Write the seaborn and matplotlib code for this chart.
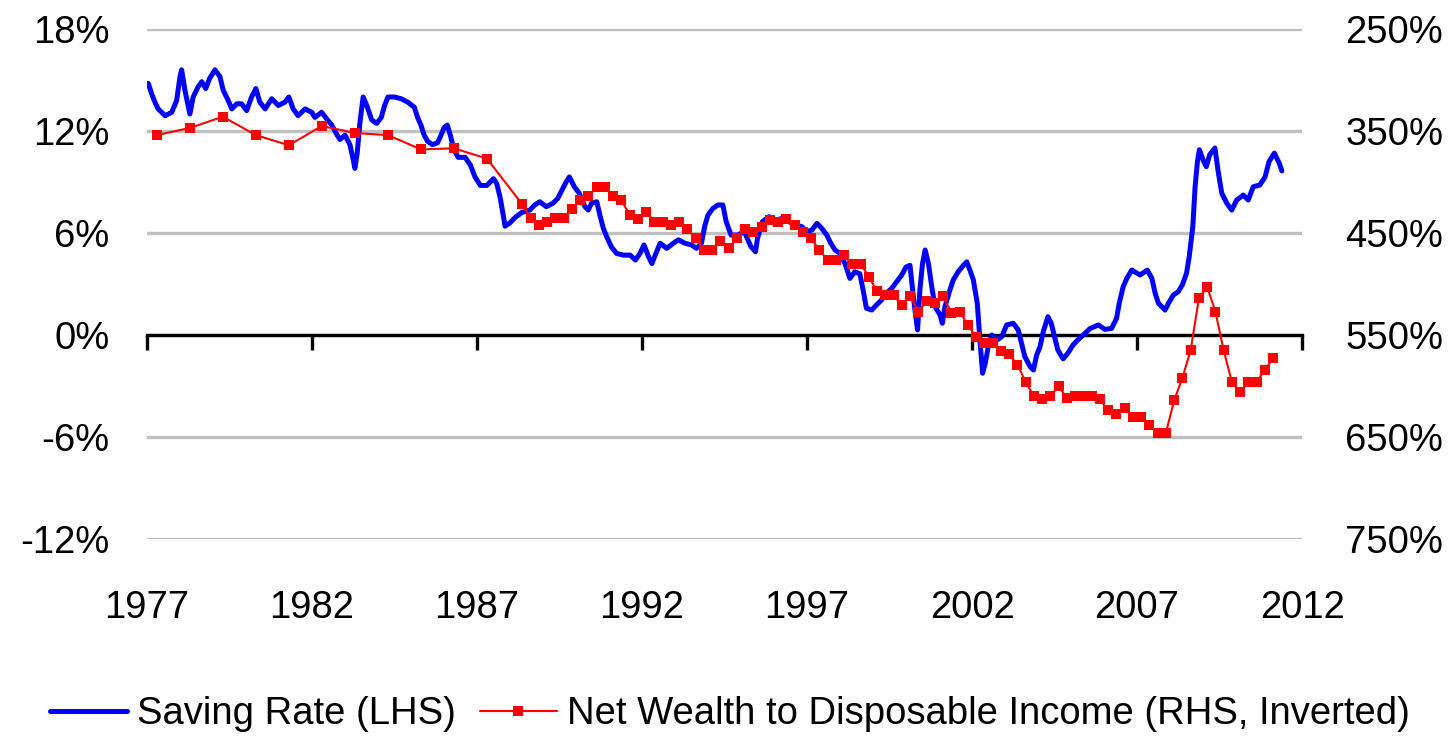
import matplotlib
matplotlib.use("Agg")
import matplotlib.pyplot as plt
import seaborn as sns

# Saving rate (LHS, %)
sr_year = [
    1977.04, 1977.14, 1977.24, 1977.34, 1977.55, 1977.75, 1977.9, 1978.0, 1978.05, 1978.15,
    1978.3, 1978.4, 1978.55, 1978.66, 1978.78, 1978.9, 1979.06, 1979.21, 1979.31, 1979.46,
    1979.57, 1979.72, 1979.87, 1980.02, 1980.17, 1980.3, 1980.42, 1980.58, 1980.78, 1980.98,
    1981.18, 1981.3, 1981.43, 1981.58, 1981.79, 1981.99, 1982.09, 1982.29, 1982.45, 1982.6,
    1982.75, 1982.85, 1983.0, 1983.15, 1983.25, 1983.3, 1983.37, 1983.45, 1983.55, 1983.66,
    1983.81, 1983.96, 1984.1, 1984.2, 1984.3, 1984.5, 1984.7, 1984.9, 1985.1, 1985.2,
    1985.3, 1985.4, 1985.5, 1985.65, 1985.8, 1985.9, 1986.0, 1986.1, 1986.2, 1986.3,
    1986.43, 1986.64, 1986.8, 1986.94, 1987.1, 1987.3, 1987.5, 1987.6, 1987.7, 1987.8,
    1987.85, 1988.0, 1988.15, 1988.35, 1988.6, 1988.75, 1988.9, 1989.1, 1989.3, 1989.45,
    1989.55, 1989.7, 1989.8, 1989.95, 1990.1, 1990.27, 1990.37, 1990.47, 1990.63, 1990.73,
    1990.83, 1990.95, 1991.08, 1991.23, 1991.43, 1991.64, 1991.8, 1991.94, 1992.06, 1992.2,
    1992.3, 1992.4, 1992.55, 1992.75, 1992.95, 1993.1, 1993.3, 1993.5, 1993.65, 1993.8,
    1993.9, 1994.0, 1994.15, 1994.3, 1994.45, 1994.55, 1994.7, 1994.9, 1995.1, 1995.3,
    1995.44, 1995.5, 1995.65, 1995.85, 1996.05, 1996.25, 1996.45, 1996.65, 1996.85, 1997.0,
    1997.15, 1997.3, 1997.45, 1997.6, 1997.72, 1997.85, 1998.0, 1998.15, 1998.3, 1998.45,
    1998.6, 1998.7, 1998.8, 1998.96, 1999.1, 1999.26, 1999.4, 1999.57, 1999.72, 1999.87,
    2000.0, 2000.12, 2000.2, 2000.27, 2000.35, 2000.42, 2000.5, 2000.58, 2000.68, 2000.78,
    2000.88, 2001.03, 2001.1, 2001.18, 2001.33, 2001.43, 2001.58, 2001.74, 2001.84, 2001.94,
    2002.04, 2002.16, 2002.24, 2002.32, 2002.4, 2002.5, 2002.6, 2002.75, 2002.9, 2003.05,
    2003.25, 2003.4, 2003.5, 2003.6, 2003.76, 2003.86, 2003.96, 2004.06, 2004.16, 2004.3,
    2004.4, 2004.5, 2004.6, 2004.76, 2004.9, 2005.06, 2005.2, 2005.37, 2005.58, 2005.83,
    2006.03, 2006.23, 2006.38, 2006.46, 2006.58, 2006.69, 2006.84, 2007.09, 2007.31, 2007.45,
    2007.55, 2007.65, 2007.85, 2007.95, 2008.1, 2008.25, 2008.37, 2008.5, 2008.58, 2008.69,
    2008.76, 2008.83, 2008.89, 2009.0, 2009.1, 2009.2, 2009.36, 2009.46, 2009.57, 2009.72,
    2009.87, 2010.02, 2010.22, 2010.37, 2010.52, 2010.72, 2010.88, 2011.0, 2011.16, 2011.31,
    2011.39,
]
sr_value = [
    14.8, 14.2, 13.7, 13.3, 12.9, 13.1, 13.8, 15.2, 15.6, 14.4,
    13.0, 14.0, 14.6, 14.9, 14.5, 15.1, 15.6, 15.2, 14.4, 13.8,
    13.3, 13.6, 13.6, 13.2, 14.0, 14.5, 13.7, 13.3, 13.9, 13.5,
    13.7, 14.0, 13.3, 12.9, 13.3, 13.1, 12.8, 13.1, 12.7, 12.35,
    11.8, 11.5, 11.76, 11.2, 10.3, 9.8, 10.7, 12.45, 14.0, 13.5,
    12.65, 12.45, 12.8, 13.5, 14.0, 14.0, 13.9, 13.7, 13.4, 12.8,
    12.35, 11.76, 11.4, 11.2, 11.3, 11.7, 12.2, 12.35, 11.7, 10.9,
    10.45, 10.45, 10.0, 9.3, 8.8, 8.8, 9.2, 8.9, 8.1, 7.0,
    6.4, 6.6, 6.9, 7.2, 7.35, 7.65, 7.84, 7.55, 7.75, 8.04,
    8.43, 9.0, 9.3, 8.72, 8.33, 7.55, 7.35, 7.75, 7.84, 7.0,
    6.27, 5.69, 5.16, 4.8, 4.7, 4.7, 4.41, 4.8, 5.3, 4.6,
    4.2, 4.7, 5.4, 5.1, 5.4, 5.6, 5.4, 5.3, 5.1, 5.4,
    6.4, 7.06, 7.45, 7.65, 7.65, 6.67, 5.88, 5.88, 6.08, 5.2,
    4.9, 5.69, 6.67, 6.96, 6.76, 6.86, 6.67, 6.47, 6.37, 6.08,
    6.18, 6.57, 6.27, 5.88, 5.4, 5.0, 4.8, 4.2, 3.33, 3.72,
    3.6, 2.65, 1.57, 1.47, 1.76, 2.06, 2.45, 2.75, 3.14, 3.53,
    4.0, 4.1, 2.65, 1.47, 0.3, 2.65, 4.2, 5.0, 4.2, 2.84,
    1.67, 1.18, 0.69, 1.67, 2.65, 3.24, 3.72, 4.1, 4.3, 3.8,
    3.24, 1.86, -0.3, -2.25, -1.67, -0.59, 0.0, -0.3, -0.1, 0.59,
    0.69, 0.3, -0.49, -1.27, -1.86, -2.06, -1.18, -0.69, 0.2, 1.08,
    0.69, -0.1, -0.88, -1.4, -1.08, -0.59, -0.3, 0.0, 0.39, 0.59,
    0.33, 0.39, 0.98, 1.86, 2.84, 3.33, 3.82, 3.53, 3.82, 3.33,
    2.45, 1.86, 1.47, 1.86, 2.35, 2.55, 2.94, 3.63, 4.6, 6.37,
    8.72, 10.2, 10.9, 10.3, 9.9, 10.6, 11.0, 9.6, 8.33, 7.75,
    7.35, 7.94, 8.23, 7.94, 8.72, 8.82, 9.3, 10.2, 10.7, 10.1,
    9.65,
]

# Net wealth to disposable income (RHS, %, inverted): annual to 1987, then quarterly
nw_year = [
    1977.3, 1978.3, 1979.3, 1980.3, 1981.3, 1982.3, 1983.3, 1984.3, 1985.3, 1986.3, 1987.3,
    1988.375, 1988.625, 1988.875, 1989.125, 1989.375, 1989.625, 1989.875, 1990.125, 1990.375, 1990.625,
    1990.875, 1991.125, 1991.375, 1991.625, 1991.875, 1992.125, 1992.375, 1992.625, 1992.875, 1993.125,
    1993.375, 1993.625, 1993.875, 1994.125, 1994.375, 1994.625, 1994.875, 1995.125, 1995.375, 1995.625,
    1995.875, 1996.125, 1996.375, 1996.625, 1996.875, 1997.125, 1997.375, 1997.625, 1997.875, 1998.125,
    1998.375, 1998.625, 1998.875, 1999.125, 1999.375, 1999.625, 1999.875, 2000.125, 2000.375, 2000.625,
    2000.875, 2001.125, 2001.375, 2001.625, 2001.875, 2002.125, 2002.375, 2002.625, 2002.875, 2003.125,
    2003.375, 2003.625, 2003.875, 2004.125, 2004.375, 2004.625, 2004.875, 2005.125, 2005.375, 2005.625,
    2005.875, 2006.125, 2006.375, 2006.625, 2006.875, 2007.125, 2007.375, 2007.625, 2007.875, 2008.125,
    2008.375, 2008.625, 2008.875, 2009.125, 2009.375, 2009.625, 2009.875, 2010.125, 2010.375, 2010.625,
    2010.875, 2011.125,
]
nw_value = [
    354, 347, 336, 354, 364, 345, 352, 354, 368, 367, 377,
    422, 435, 442, 439, 435, 435, 426, 418, 414, 405,
    405, 414, 418, 432, 436, 429, 439, 439, 442, 439,
    446, 455, 467, 467, 458, 465, 455, 446, 449, 444,
    437, 439, 436, 442, 449, 455, 467, 476, 476, 472,
    480, 480, 493, 507, 511, 511, 521, 512, 527, 517,
    519, 512, 528, 527, 540, 552, 558, 558, 566, 569,
    579, 596, 610, 613, 610, 600, 612, 610, 610, 610,
    613, 624, 627, 622, 630, 630, 638, 646, 646, 614,
    592, 565, 514, 503, 527, 565, 596, 606, 596, 596,
    584, 573,
]

x_ticks = [1977, 1982, 1987, 1992, 1997, 2002, 2007, 2012]
lhs_ticks = [-12, -6, 0, 6, 12, 18]
rhs_ticks = [250, 350, 450, 550, 650, 750]

sns.set_style("white")
plt.rcParams["font.family"] = ["Liberation Sans", "DejaVu Sans"]
FS = 27.5

fig = plt.figure(figsize=(14.48, 7.40), dpi=100)
ax = fig.add_axes([0.1015, 0.2716, 0.7977, 0.6892])
ax2 = ax.twinx()

sns.lineplot(x=sr_year, y=sr_value, ax=ax, color="#0000FF", linewidth=3.6, zorder=3)
ax.lines[-1].set_label("Saving Rate (LHS)")

sns.lineplot(x=nw_year, y=nw_value, ax=ax2, color="#FF0000", linewidth=1.5,
             marker="s", markersize=6.5, markeredgewidth=0)
ax2.lines[-1].set_label("Net Wealth to Disposable Income (RHS, Inverted)")

# left axis
ax.set_xlim(1977, 2012)
ax.set_ylim(-12, 18)
ax.set_yticks(lhs_ticks)
ax.set_yticklabels([f"{v}%" for v in lhs_ticks])
ax.yaxis.grid(True, color="#C0C0C0", linewidth=2.4)
ax.xaxis.grid(False)
ax.set_axisbelow(True)
ax.tick_params(axis="y", length=0, pad=27, labelsize=FS, labelcolor="black")
for s in ["top", "left", "right"]:
    ax.spines[s].set_visible(False)
ax.spines["bottom"].set_position(("data", 0))
ax.spines["bottom"].set_color("black")
ax.spines["bottom"].set_linewidth(2.4)
ax.set_xticks(x_ticks)
ax.tick_params(axis="x", direction="out", length=11, width=2.4, color="black",
               bottom=True, labelbottom=False)

# year labels along the bottom of the plot area
sec = ax.secondary_xaxis(0)
sec.set_xticks(x_ticks)
sec.set_xticklabels([str(y) for y in x_ticks])
sec.tick_params(length=0, pad=37, labelsize=FS, labelcolor="black")
sec.spines["bottom"].set_visible(False)

# right axis, inverted
ax2.set_ylim(750, 250)
ax2.set_yticks(rhs_ticks)
ax2.set_yticklabels([f"{v}%" for v in rhs_ticks])
ax2.tick_params(axis="y", length=0, pad=31, labelsize=FS, labelcolor="black")
ax2.grid(False)
for s in ["top", "left", "right", "bottom"]:
    ax2.spines[s].set_visible(False)
ax.set_xlabel("")
ax.set_ylabel("")
ax2.set_ylabel("")

h1, l1 = ax.get_legend_handles_labels()
h2, l2 = ax2.get_legend_handles_labels()
leg = fig.legend(h1 + h2, l1 + l2, loc="center", bbox_to_anchor=(0.504, 1 - 714 / 740),
                 ncol=2, frameon=False, fontsize=FS, handlelength=2.0,
                 handletextpad=0.26, columnspacing=0.65)
for t in leg.get_texts():
    t.set_color("black")

fig.savefig("out.png", dpi=100)
